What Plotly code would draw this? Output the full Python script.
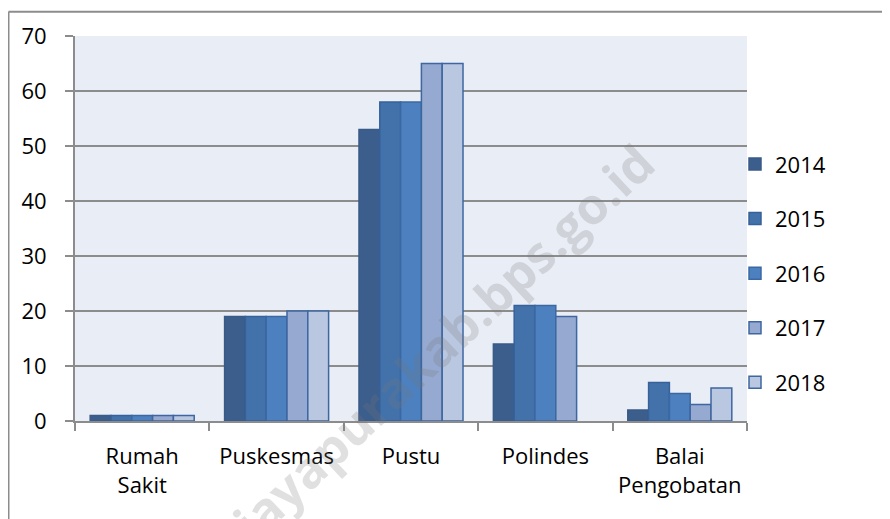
import plotly.graph_objects as go

categories = ["Rumah<br>Sakit", "Puskesmas", "Pustu", "Polindes", "Balai<br>Pengobatan"]
years = ["2014", "2015", "2016", "2017", "2018"]
values = {
    "2014": [1, 19, 53, 14, 2],
    "2015": [1, 19, 58, 21, 7],
    "2016": [1, 19, 58, 21, 5],
    "2017": [1, 20, 65, 19, 3],
    "2018": [1, 20, 65, None, 6],
}
fill_colors = ["#3B5E8C", "#4372AA", "#4C80BE", "#95A9D1", "#B9C7E1"]
line_colors = ["#3A5B88", "#36619A", "#3B68A3", "#3E66A0", "#3E66A0"]

# page has an 8px body margin; figure coords = page coords - 8
W, H = 890, 519
L, T = 67, 25
pw, ph = 672, 388
R = W - L - pw
B = H - T - ph

fig = go.Figure()
for i, y in enumerate(years):
    fig.add_trace(go.Bar(
        name=y, x=categories, y=values[y],
        marker=dict(color=fill_colors[i], line=dict(color=line_colors[i], width=1.5)),
        legendgroup=y,
    ))

FAM = "Open Sans, Liberation Sans, sans-serif"
font = dict(family=FAM, size=22, color="#000000")

fig.update_layout(
    width=W, height=H,
    margin=dict(l=L, r=R, t=T, b=B, pad=0),
    barmode="group", bargap=0.226, bargroupgap=0,
    plot_bgcolor="#E9EDF5", paper_bgcolor="#FFFFFF",
    font=font,
    showlegend=True,
    legend=dict(x=(727 - L) / pw, y=0.5 - 45 / ph, xanchor="left", yanchor="middle",
                font=font, tracegroupgap=23, bgcolor="rgba(0,0,0,0)", itemwidth=30),
    xaxis=dict(showgrid=False, showline=True, linecolor="#8C8C8C", linewidth=2,
               ticks="outside", tickson="boundaries", ticklen=8, tickcolor="#8C8C8C",
               tickwidth=2, tickfont=font, ticklabelstandoff=15),
    yaxis=dict(range=[0, 70], dtick=10, showgrid=True, gridcolor="#8C8C8C", gridwidth=2,
               showline=True, linecolor="#8C8C8C", linewidth=2, zeroline=False,
               ticks="outside", ticklen=8, tickcolor="#8C8C8C", tickwidth=2,
               tickfont=font, ticklabelstandoff=14),
)

# outer chart frame (left and top edges visible)
x_frame = (0.5 - L) / pw
y_frame = 1 + (T - 0.5) / ph
fig.add_shape(type="line", xref="paper", yref="paper", x0=x_frame, x1=x_frame,
              y0=y_frame, y1=-0.4, line=dict(color="#8C8C8C", width=2))
fig.add_shape(type="line", xref="paper", yref="paper", x0=x_frame, x1=1.4,
              y0=y_frame, y1=y_frame, line=dict(color="#8C8C8C", width=2))

# watermark
fig.add_annotation(text="jayapurakab.bps.go.id", xref="paper", yref="paper",
                   x=(434 - L) / pw, y=1 - (334 - T) / ph, xanchor="center", yanchor="middle",
                   showarrow=False, textangle=-43, opacity=0.22,
                   font=dict(family=FAM, size=50, color="#777777", weight="bold"))

fig.write_html("out.html")
